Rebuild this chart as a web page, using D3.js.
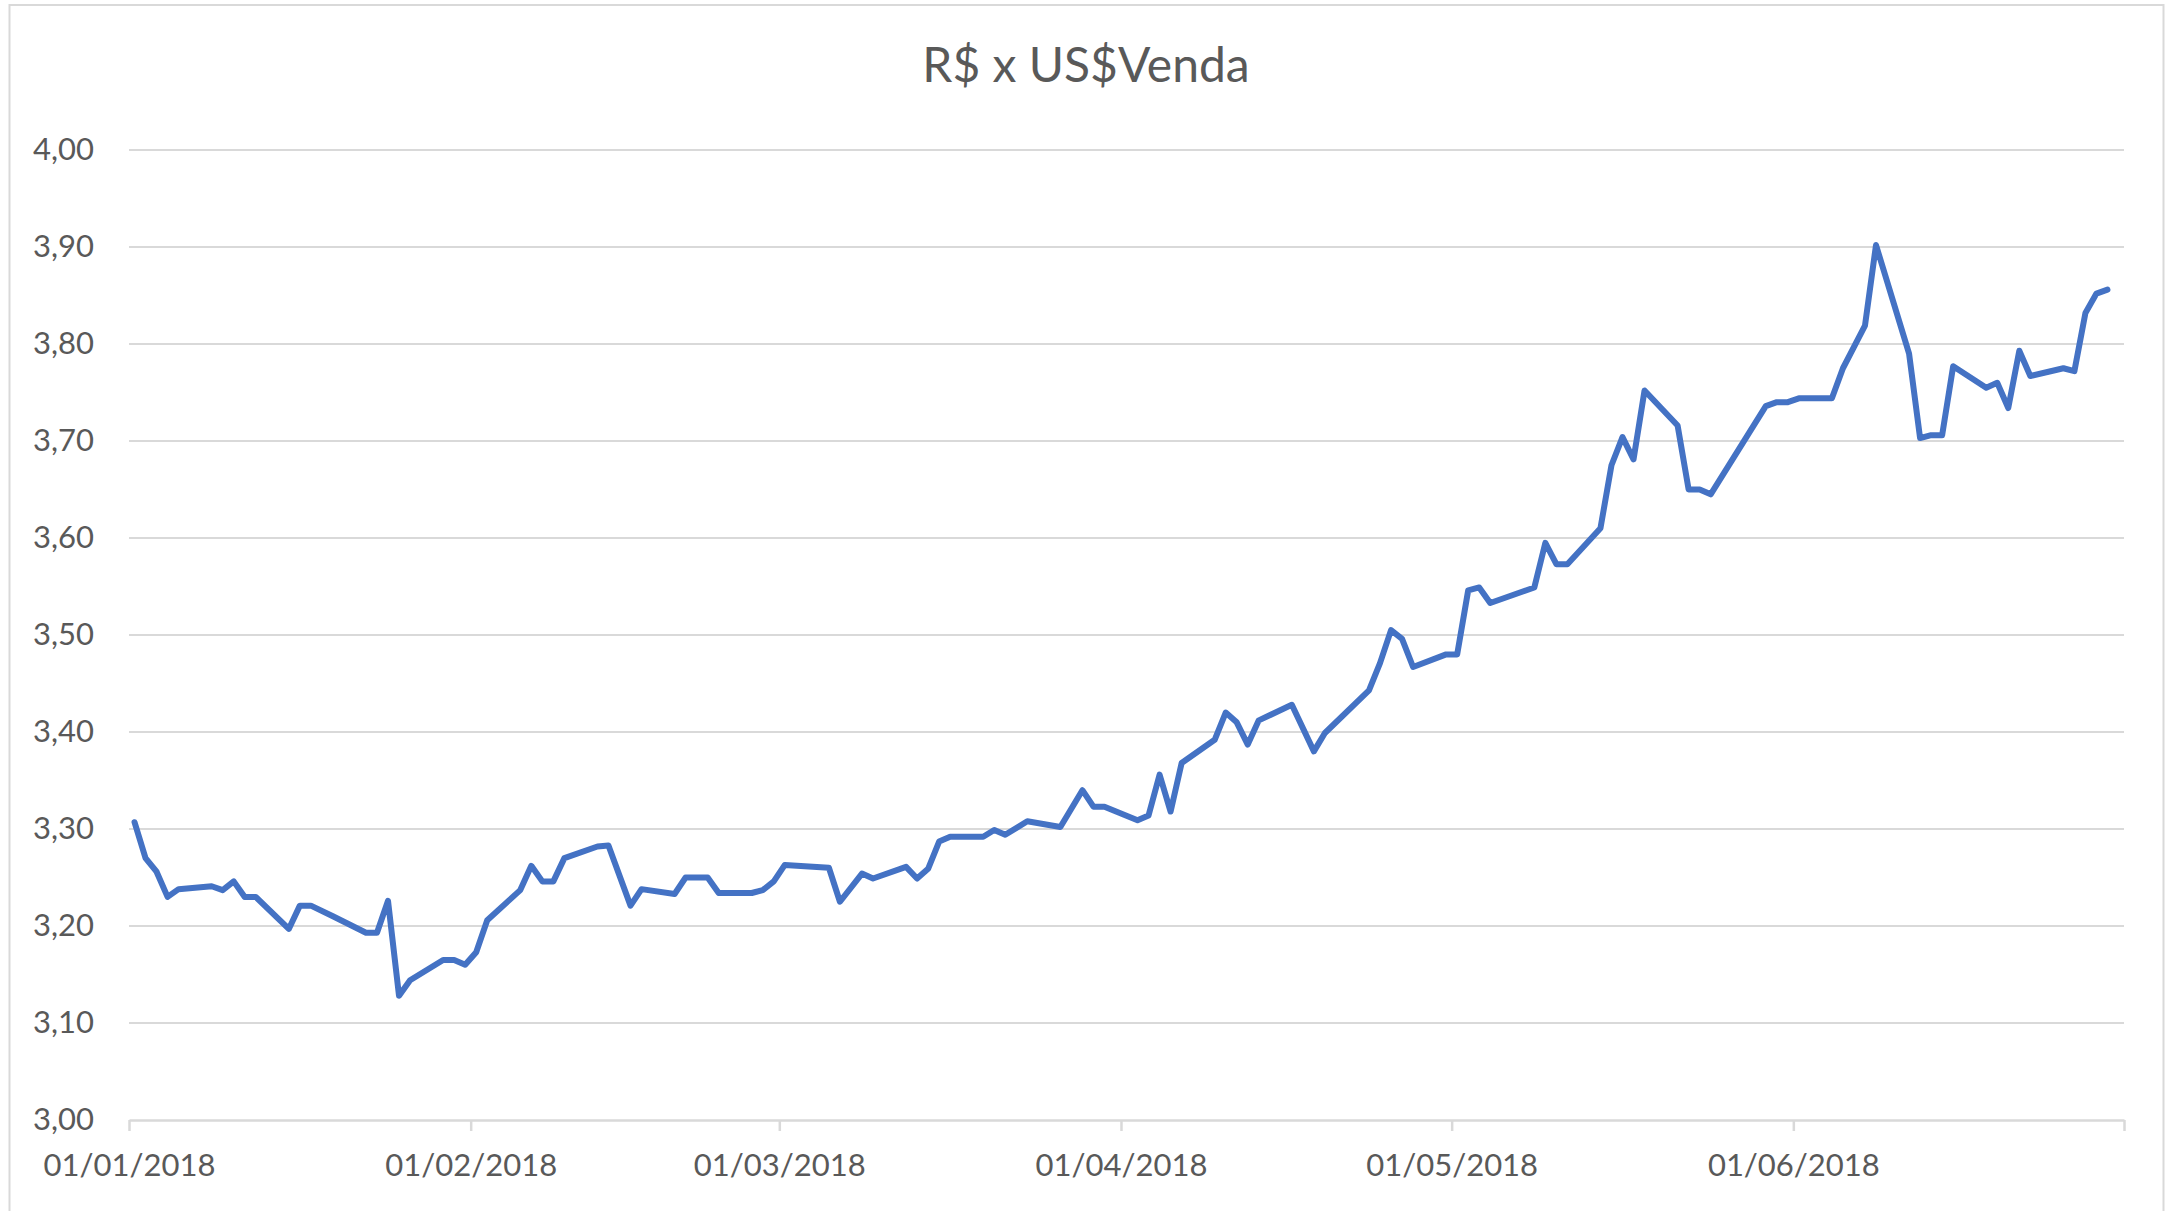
<!DOCTYPE html>
<html lang="pt-BR">
<head>
    <meta charset="utf-8">
    <title>R$ x US$Venda</title>
    <style>
        body { margin: 0; background: #fff; }
        text { font-family: Lato, "Open Sans", sans-serif; fill: #595959; }
    </style>
</head>
<body>

<div id="line-chart"></div>

<script src="https://d3js.org/d3.v7.min.js"></script>

<script type="text/javascript">

    var chartTitle = "R$ x US$Venda";

    // business days (dd/mm/yyyy) and the selling rate
    var dates = [
        "01/01/2018", "02/01/2018", "03/01/2018", "04/01/2018", "05/01/2018",
        "08/01/2018", "09/01/2018", "10/01/2018", "11/01/2018", "12/01/2018",
        "15/01/2018", "16/01/2018", "17/01/2018", "19/01/2018",
        "22/01/2018", "23/01/2018", "24/01/2018", "25/01/2018", "26/01/2018",
        "29/01/2018", "30/01/2018", "31/01/2018", "01/02/2018", "02/02/2018",
        "05/02/2018", "06/02/2018", "07/02/2018", "08/02/2018", "09/02/2018",
        "12/02/2018", "13/02/2018", "15/02/2018", "16/02/2018",
        "19/02/2018", "20/02/2018", "22/02/2018", "23/02/2018",
        "26/02/2018", "27/02/2018", "28/02/2018", "01/03/2018",
        "05/03/2018", "06/03/2018", "08/03/2018", "09/03/2018",
        "12/03/2018", "13/03/2018", "14/03/2018", "15/03/2018", "16/03/2018",
        "19/03/2018", "20/03/2018", "21/03/2018", "23/03/2018",
        "26/03/2018", "28/03/2018", "29/03/2018", "30/03/2018",
        "02/04/2018", "03/04/2018", "04/04/2018", "05/04/2018", "06/04/2018",
        "09/04/2018", "10/04/2018", "11/04/2018", "12/04/2018", "13/04/2018",
        "16/04/2018", "18/04/2018", "19/04/2018",
        "23/04/2018", "24/04/2018", "25/04/2018", "26/04/2018", "27/04/2018",
        "30/04/2018", "01/05/2018", "02/05/2018", "03/05/2018", "04/05/2018",
        "08/05/2018", "09/05/2018", "10/05/2018", "11/05/2018",
        "14/05/2018", "15/05/2018", "16/05/2018", "17/05/2018", "18/05/2018",
        "21/05/2018", "22/05/2018", "23/05/2018", "24/05/2018",
        "29/05/2018", "30/05/2018", "31/05/2018", "01/06/2018",
        "04/06/2018", "05/06/2018", "07/06/2018", "08/06/2018",
        "11/06/2018", "12/06/2018", "13/06/2018", "14/06/2018", "15/06/2018",
        "18/06/2018", "19/06/2018", "20/06/2018", "21/06/2018", "22/06/2018",
        "25/06/2018", "26/06/2018", "27/06/2018", "28/06/2018", "29/06/2018"
    ];

    var values = [
        3.307, 3.270, 3.256, 3.230, 3.238,
        3.241, 3.237, 3.246, 3.230, 3.230,
        3.197, 3.221, 3.221, 3.210,
        3.193, 3.193, 3.226, 3.128, 3.144,
        3.165, 3.165, 3.160, 3.173, 3.206,
        3.237, 3.262, 3.246, 3.246, 3.270,
        3.282, 3.283, 3.221, 3.238,
        3.233, 3.250, 3.250, 3.234,
        3.234, 3.237, 3.246, 3.263,
        3.260, 3.225, 3.254, 3.249,
        3.261, 3.249, 3.259, 3.287, 3.292,
        3.292, 3.299, 3.294, 3.308,
        3.302, 3.340, 3.323, 3.323,
        3.309, 3.314, 3.356, 3.318, 3.368,
        3.392, 3.420, 3.410, 3.387, 3.412,
        3.428, 3.380, 3.399,
        3.443, 3.471, 3.505, 3.496, 3.467,
        3.480, 3.480, 3.546, 3.549, 3.533,
        3.549, 3.595, 3.573, 3.573,
        3.610, 3.675, 3.704, 3.681, 3.752,
        3.716, 3.650, 3.650, 3.645,
        3.736, 3.740, 3.740, 3.744,
        3.744, 3.775, 3.819, 3.902,
        3.790, 3.703, 3.706, 3.706, 3.777,
        3.755, 3.760, 3.734, 3.793, 3.767,
        3.775, 3.772, 3.832, 3.852, 3.856
    ];

    var yTicks = [3.0, 3.1, 3.2, 3.3, 3.4, 3.5, 3.6, 3.7, 3.8, 3.9, 4.0];

    var width = 2167,
        height = 1211;

    var plot = {
        left: 129,
        right: 2124,
        top: 150,
        bottom: 1120
    };

    var parseTime = d3.timeParse("%d/%m/%Y");
    var formatDate = d3.timeFormat("%d/%m/%Y");
    var ptBR = d3.formatLocale({decimal: ",", thousands: ".", grouping: [3], currency: ["R$", ""]});
    var formatValue = ptBR.format(".2f");

    var dataset = dates.map(function (d, i) {
        return {date: parseTime(d), value: values[i]};
    });

    var svg = d3.select("#line-chart")
            .append("svg")
            .attr("width", width)
            .attr("height", height);

    // chart frame
    svg.append("rect")
            .attr("x", 9.5)
            .attr("y", 5)
            .attr("width", 2154)
            .attr("height", 1220)
            .style("fill", "#fff")
            .style("stroke", "#d9d9d9")
            .style("stroke-width", 2);

    var x = d3.scaleTime()
            .domain([new Date(2018, 0, 1), new Date(2018, 6, 1)])
            .range([plot.left, plot.right]);

    var y = d3.scaleLinear()
            .domain([3, 4])
            .range([plot.bottom, plot.top]);

    // horizontal gridlines
    svg.append("g")
            .attr("class", "grid")
            .selectAll("line")
            .data(yTicks.slice(1))
            .enter().append("line")
            .attr("x1", plot.left)
            .attr("x2", plot.right)
            .attr("y1", function (d) { return y(d); })
            .attr("y2", function (d) { return y(d); })
            .style("stroke", "#d9d9d9")
            .style("stroke-width", 2);

    // y axis labels
    var yAxis = d3.axisLeft(y)
            .tickValues(yTicks)
            .tickFormat(formatValue)
            .tickSize(0)
            .tickPadding(0);

    var yAxisG = svg.append("g")
            .attr("transform", "translate(94,0)")
            .call(yAxis);
    yAxisG.select(".domain").remove();
    yAxisG.selectAll("text")
            .style("font-size", "31px")
            .style("fill", "#595959")
            .style("font-family", "Lato, sans-serif");

    // x axis, ticks on the first of every month
    var xAxis = d3.axisBottom(x)
            .ticks(d3.timeMonth.every(1))
            .tickFormat(function (d) {
                return d.getMonth() === 6 ? "" : formatDate(d);
            })
            .tickSizeInner(11)
            .tickSizeOuter(0)
            .tickPadding(23);

    var xAxisG = svg.append("g")
            .attr("class", "X-Axis")
            .attr("transform", "translate(0," + plot.bottom + ")")
            .call(xAxis);
    xAxisG.select(".domain")
            .style("stroke", "#d9d9d9")
            .style("stroke-width", 2.5);
    xAxisG.selectAll(".tick line")
            .style("stroke", "#d9d9d9")
            .style("stroke-width", 2.5);
    xAxisG.selectAll("text")
            .style("font-size", "31px")
            .style("fill", "#595959")
            .style("font-family", "Lato, sans-serif");

    // the series; a date axis puts each day's point in the middle of the day
    var line = d3.line()
            .x(function (d) { return x(d3.timeHour.offset(d.date, 12)); })
            .y(function (d) { return y(d.value); });

    svg.append("path")
            .datum(dataset)
            .attr("d", line)
            .style("fill", "none")
            .style("stroke", "#4472c4")
            .style("stroke-width", 6)
            .style("stroke-linejoin", "round")
            .style("stroke-linecap", "round");

    // title
    svg.append("text")
            .attr("x", 1086)
            .attr("y", 82)
            .attr("text-anchor", "middle")
            .style("font-size", "48px")
            .style("fill", "#595959")
            .text(chartTitle);

</script>
</body>
</html>
